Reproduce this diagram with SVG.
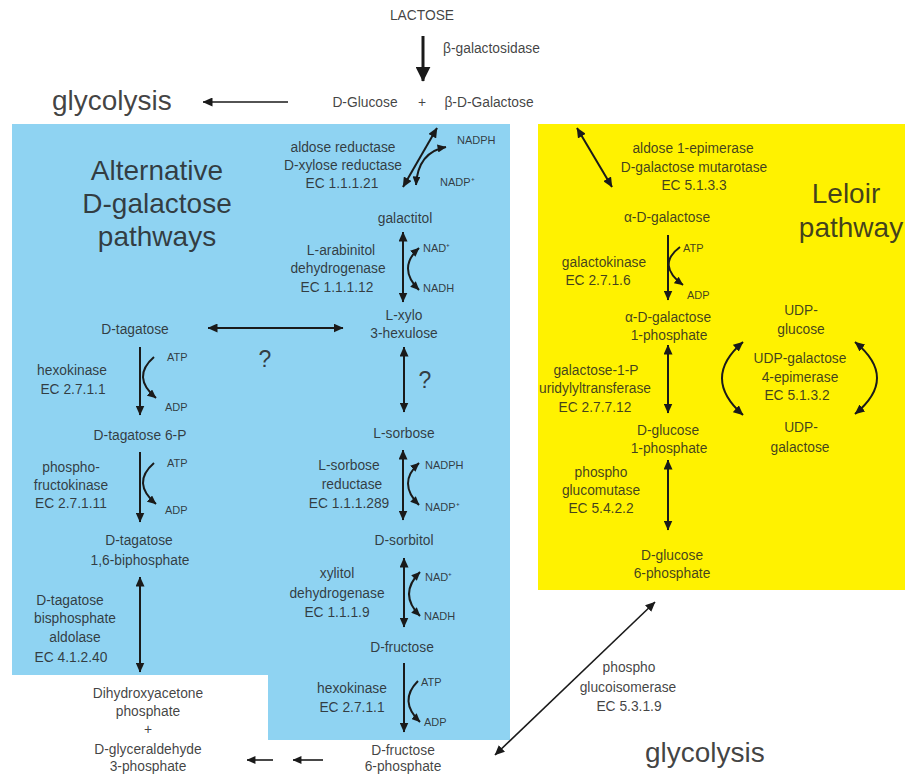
<svg xmlns="http://www.w3.org/2000/svg" width="905" height="775" viewBox="0 0 905 775">
<style>
text{font-family:"Liberation Sans",Arial,sans-serif;fill:#222;fill-opacity:0.85;text-anchor:middle}
.t{font-size:13.8px}
.c{font-size:11px;text-anchor:start}
.big{font-size:28px}
.q{font-size:23px}
.ln{fill:none;stroke:#1a1a1a;stroke-width:2}
.thin{fill:none;stroke:#1a1a1a;stroke-width:1.6}
</style>
<defs>
<marker id="h" viewBox="0 0 10 9" refX="9.5" refY="4.5" markerWidth="10" markerHeight="9" markerUnits="userSpaceOnUse" orient="auto-start-reverse"><path d="M0,0 L10,4.5 L0,9 z" fill="#1a1a1a"/></marker>
<marker id="hs" viewBox="0 0 10 9" refX="9.5" refY="4.5" markerWidth="9" markerHeight="8" markerUnits="userSpaceOnUse" orient="auto-start-reverse"><path d="M0,0 L10,4.5 L0,9 z" fill="#1a1a1a"/></marker>
<marker id="hb" viewBox="0 0 10 10" refX="9.5" refY="5" markerWidth="15" markerHeight="15" markerUnits="userSpaceOnUse" orient="auto"><path d="M0,0 L10,5 L0,10 z" fill="#1a1a1a"/></marker>
</defs>
<rect width="905" height="775" fill="#fff"/>
<path id="alt-region" d="M12,124 H510 V740 H268 V675 H12 Z" fill="#8fd3f2"/>
<rect id="leloir-region" x="538" y="124" width="367" height="466" fill="#fff200"/>

<g id="connectors">
<line class="ln" x1="423" y1="36" x2="423" y2="81" marker-end="url(#hb)" style="stroke-width:3"/>
<line class="thin" x1="288" y1="102" x2="203" y2="102" marker-end="url(#h)"/>
<line class="ln" x1="403" y1="187" x2="437" y2="128" marker-start="url(#h)" marker-end="url(#h)"/>
<path class="ln" d="M416,185 Q418,152 446,147" marker-start="url(#hs)" marker-end="url(#hs)"/>
<line class="ln" x1="403" y1="232" x2="403" y2="302" marker-start="url(#h)" marker-end="url(#h)"/>
<path class="ln" d="M419,248 Q397,268 419,290" marker-start="url(#hs)" marker-end="url(#hs)"/>
<line class="ln" x1="208" y1="328" x2="343" y2="328" marker-start="url(#h)" marker-end="url(#h)"/>
<line class="ln" x1="404" y1="347" x2="404" y2="412" marker-start="url(#h)" marker-end="url(#h)"/>
<line class="ln" x1="403" y1="450" x2="403" y2="520" marker-start="url(#h)" marker-end="url(#h)"/>
<path class="ln" d="M419,463 Q397,483 419,505" marker-start="url(#hs)" marker-end="url(#hs)"/>
<line class="ln" x1="404" y1="558" x2="404" y2="627" marker-start="url(#h)" marker-end="url(#h)"/>
<path class="ln" d="M420,572 Q398,594 420,616" marker-start="url(#hs)" marker-end="url(#hs)"/>
<line class="ln" x1="404" y1="663" x2="404" y2="732" marker-end="url(#h)"/>
<path class="ln" d="M418,681 Q398,701 420,722" marker-end="url(#hs)"/>
<line class="ln" x1="140" y1="347" x2="140" y2="415" marker-end="url(#h)"/>
<path class="ln" d="M154,357 Q131,377 156,398" marker-end="url(#hs)"/>
<line class="ln" x1="140" y1="452" x2="140" y2="522" marker-end="url(#h)"/>
<path class="ln" d="M154,463 Q131,483 156,504" marker-end="url(#hs)"/>
<line class="ln" x1="140" y1="577" x2="140" y2="672" marker-start="url(#h)" marker-end="url(#h)"/>
<line class="thin" x1="273" y1="760" x2="247" y2="760" marker-end="url(#hs)"/>
<line class="thin" x1="323" y1="760" x2="293" y2="760" marker-end="url(#hs)"/>
<line class="ln" x1="577" y1="128" x2="612" y2="187" marker-start="url(#h)" marker-end="url(#h)"/>
<line class="ln" x1="668" y1="235" x2="668" y2="300" marker-end="url(#h)"/>
<path class="ln" d="M680,247 Q656,265 683,285" marker-end="url(#hs)"/>
<line class="ln" x1="668" y1="345" x2="668" y2="413" marker-start="url(#h)" marker-end="url(#h)"/>
<line class="ln" x1="668" y1="460" x2="668" y2="530" marker-start="url(#h)" marker-end="url(#h)"/>
<path class="ln" d="M743,342 Q701,378 743,415" marker-start="url(#h)" marker-end="url(#h)"/>
<path class="ln" d="M855,342 Q899,378 855,414" marker-start="url(#h)" marker-end="url(#h)"/>
<line class="thin" x1="495" y1="755" x2="655" y2="602" marker-start="url(#h)" marker-end="url(#h)"/>
</g>

<g id="lactose"><text class="t" x="422" y="20">LACTOSE</text></g>
<g id="e-bgal"><text class="t" x="443" y="53" style="text-anchor:start">β-galactosidase</text></g>
<g id="glycolysis-top"><text class="big" x="52" y="110" style="text-anchor:start">glycolysis</text></g>
<g id="glc-gal"><text class="t" x="365" y="107">D-Glucose</text><text class="t" x="422" y="107">+</text><text class="t" x="489" y="107">β-D-Galactose</text></g>

<g id="title-alt"><text class="big" x="157" y="180">Alternative</text><text class="big" x="157" y="213">D-galactose</text><text class="big" x="157" y="246">pathways</text></g>
<g id="title-leloir"><text class="big" x="846" y="203">Leloir</text><text class="big" x="851" y="237">pathway</text></g>

<g id="e-aldose-red"><text class="t" x="343" y="152">aldose reductase</text><text class="t" x="343" y="170">D-xylose reductase</text><text class="t" x="342" y="188">EC 1.1.1.21</text><text class="c" x="457" y="144">NADPH</text><text class="c" x="440" y="186">NADP⁺</text></g>
<g id="galactitol"><text class="t" x="405" y="223">galactitol</text></g>
<g id="e-arabinitol"><text class="t" x="341" y="255">L-arabinitol</text><text class="t" x="338" y="273">dehydrogenase</text><text class="t" x="337" y="292">EC 1.1.1.12</text><text class="c" x="423" y="252">NAD⁺</text><text class="c" x="423" y="292">NADH</text></g>
<g id="lxylo"><text class="t" x="404" y="320">L-xylo</text><text class="t" x="404" y="338">3-hexulose</text></g>
<g id="q1"><text class="q" x="265" y="367">?</text></g>
<g id="q2"><text class="q" x="425" y="388">?</text></g>
<g id="lsorbose"><text class="t" x="404" y="438">L-sorbose</text></g>
<g id="e-sorbose-red"><text class="t" x="349" y="470">L-sorbose</text><text class="t" x="352" y="489">reductase</text><text class="t" x="349" y="508">EC 1.1.1.289</text><text class="c" x="425" y="469">NADPH</text><text class="c" x="425" y="511">NADP⁺</text></g>
<g id="dsorbitol"><text class="t" x="404" y="545">D-sorbitol</text></g>
<g id="e-xylitol"><text class="t" x="337" y="578">xylitol</text><text class="t" x="337" y="598">dehydrogenase</text><text class="t" x="337" y="617">EC 1.1.1.9</text><text class="c" x="425" y="581">NAD⁺</text><text class="c" x="424" y="620">NADH</text></g>
<g id="dfructose"><text class="t" x="402" y="652">D-fructose</text></g>
<g id="e-hexo2"><text class="t" x="352" y="693">hexokinase</text><text class="t" x="352" y="712">EC 2.7.1.1</text><text class="c" x="421" y="686">ATP</text><text class="c" x="424" y="726">ADP</text></g>
<g id="f6p"><text class="t" x="403" y="755">D-fructose</text><text class="t" x="403" y="771">6-phosphate</text></g>

<g id="dtagatose"><text class="t" x="135" y="334">D-tagatose</text></g>
<g id="e-hexo1"><text class="t" x="72" y="375">hexokinase</text><text class="t" x="73" y="394">EC 2.7.1.1</text><text class="c" x="167" y="361">ATP</text><text class="c" x="165" y="411">ADP</text></g>
<g id="tag6p"><text class="t" x="140" y="440">D-tagatose 6-P</text></g>
<g id="e-pfk"><text class="t" x="71" y="472">phospho-</text><text class="t" x="71" y="490">fructokinase</text><text class="t" x="71" y="508">EC 2.7.1.11</text><text class="c" x="167" y="467">ATP</text><text class="c" x="165" y="514">ADP</text></g>
<g id="tag16bp"><text class="t" x="139" y="545">D-tagatose</text><text class="t" x="140" y="565">1,6-biphosphate</text></g>
<g id="e-aldolase"><text class="t" x="70" y="605">D-tagatose</text><text class="t" x="75" y="623">bisphosphate</text><text class="t" x="75" y="642">aldolase</text><text class="t" x="71" y="662">EC 4.1.2.40</text></g>
<g id="dhap-gap"><text class="t" x="148" y="698">Dihydroxyacetone</text><text class="t" x="148" y="716">phosphate</text><text class="t" x="148" y="734">+</text><text class="t" x="148" y="754">D-glyceraldehyde</text><text class="t" x="148" y="771">3-phosphate</text></g>

<g id="e-mutarotase"><text class="t" x="693" y="153">aldose 1-epimerase</text><text class="t" x="694" y="172">D-galactose mutarotase</text><text class="t" x="694" y="190">EC 5.1.3.3</text></g>
<g id="a-gal"><text class="t" x="667" y="222">α-D-galactose</text></g>
<g id="e-galk"><text class="t" x="604" y="267">galactokinase</text><text class="t" x="598" y="285">EC 2.7.1.6</text><text class="c" x="683" y="252">ATP</text><text class="c" x="687" y="299">ADP</text></g>
<g id="gal1p"><text class="t" x="668" y="322">α-D-galactose</text><text class="t" x="669" y="340">1-phosphate</text></g>
<g id="e-galt"><text class="t" x="596" y="375">galactose-1-P</text><text class="t" x="595" y="393">uridylyltransferase</text><text class="t" x="595" y="412">EC 2.7.7.12</text></g>
<g id="glc1p"><text class="t" x="668" y="435">D-glucose</text><text class="t" x="669" y="453">1-phosphate</text></g>
<g id="e-pgm"><text class="t" x="601" y="477">phospho</text><text class="t" x="601" y="495">glucomutase</text><text class="t" x="601" y="513">EC 5.4.2.2</text></g>
<g id="glc6p"><text class="t" x="672" y="560">D-glucose</text><text class="t" x="672" y="578">6-phosphate</text></g>
<g id="udpglc"><text class="t" x="801" y="315">UDP-</text><text class="t" x="801" y="334">glucose</text></g>
<g id="e-gale"><text class="t" x="800" y="363">UDP-galactose</text><text class="t" x="800" y="382">4-epimerase</text><text class="t" x="797" y="400">EC 5.1.3.2</text></g>
<g id="udpgal"><text class="t" x="801" y="432">UDP-</text><text class="t" x="800" y="452">galactose</text></g>

<g id="e-pgi"><text class="t" x="629" y="672">phospho</text><text class="t" x="628" y="692">glucoisomerase</text><text class="t" x="629" y="711">EC 5.3.1.9</text></g>
<g id="glycolysis-bottom"><text class="big" x="645" y="762" style="text-anchor:start">glycolysis</text></g>
</svg>
